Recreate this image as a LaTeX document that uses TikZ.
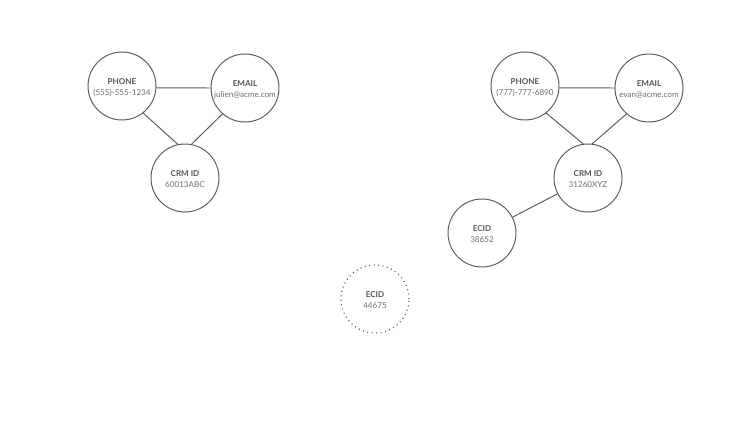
\documentclass[tikz,border=0pt]{standalone}
\usepackage{fontspec}
\setsansfont{Lato}
\renewcommand{\familydefault}{\sfdefault}

\definecolor{ringgray}{HTML}{5A5A5A}
\definecolor{labelgray}{HTML}{555555}
\definecolor{valuegray}{HTML}{6E6E6E}

\tikzset{
  idnode/.style={circle, draw=ringgray, line width=0.55pt, minimum size=1.36cm,
    inner sep=0pt, align=center, font=\fontsize{4.6}{6.3}\selectfont},
  loose/.style={idnode, dotted, line width=0.7pt},
  link/.style={draw=ringgray, line width=0.55pt}
}

\newcommand{\idtext}[2]{\rule{0pt}{5pt}{\color{labelgray}\bfseries #1}\\{\color{valuegray}#2}}

\begin{document}
\begin{tikzpicture}[x=0.02cm, y=-0.02cm]
    \useasboundingbox (0, 0) rectangle (750, 422);

    % first profile
    \node[idnode] (phoneA) at (122, 86) {\idtext{PHONE}{(555)-555-1234}};
    \node[idnode] (emailA) at (245, 88) {\idtext{EMAIL}{julien@acme.com}};
    \node[idnode] (crmA) at (185, 178) {\idtext{CRM ID}{60013ABC}};

    \draw[link] (phoneA.-3) -- (emailA.180);
    \draw[link] (phoneA.-52) -- (crmA.102);
    \draw[link] (emailA.-131) -- (crmA.79);

    % second profile
    \node[idnode] (phoneB) at (525, 86) {\idtext{PHONE}{(777)-777-6890}};
    \node[idnode] (emailB) at (649, 88) {\idtext{EMAIL}{evan@acme.com}};
    \node[idnode] (crmB) at (588, 178) {\idtext{CRM ID}{31260XYZ}};
    \node[idnode] (ecidB) at (482, 233) {\idtext{ECID}{38652}};

    \draw[link] (phoneB.-3) -- (emailB.180);
    \draw[link] (phoneB.-52) -- (crmB.98);
    \draw[link] (emailB.-131) -- (crmB.83);
    \draw[link] (ecidB) -- (crmB);

    % unlinked
    \node[loose] (ecidC) at (375, 299) {\idtext{ECID}{44675}};

  \end{tikzpicture}
\end{document}
